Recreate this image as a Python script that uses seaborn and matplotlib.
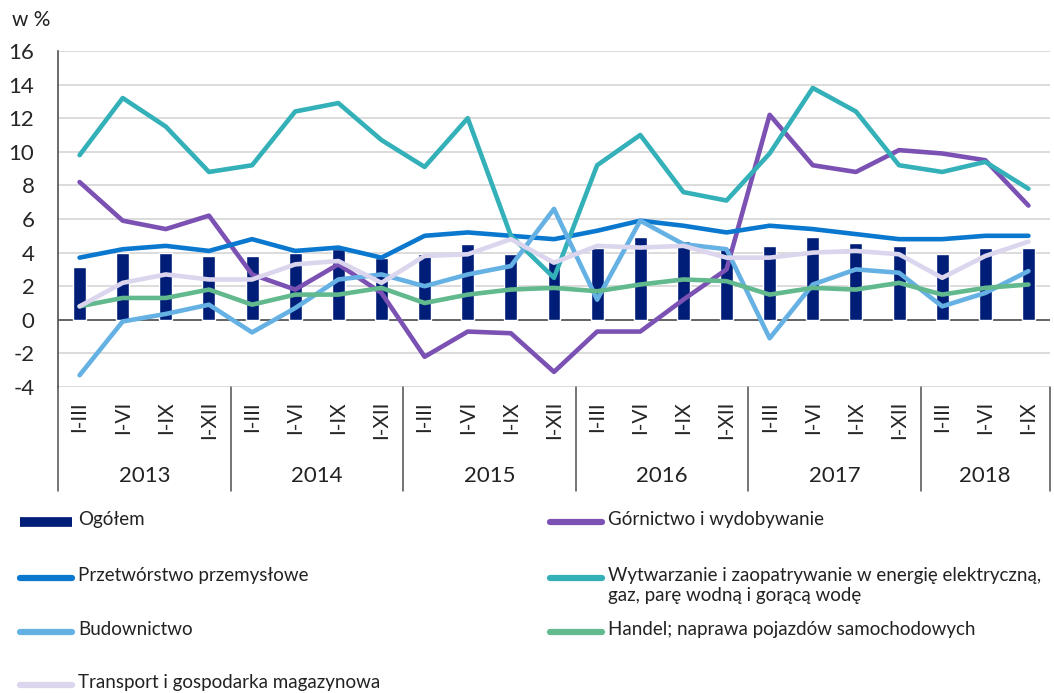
import numpy as np
import pandas as pd
import seaborn as sns
import matplotlib.pyplot as plt
import matplotlib.transforms as mtransforms
from matplotlib.lines import Line2D

# periods
years = ['2013', '2014', '2015', '2016', '2017', '2018']
quarters = ['I-III', 'I-VI', 'I-IX', 'I-XII']
periods_per_year = [4, 4, 4, 4, 4, 3]
period_labels = [q for n in periods_per_year for q in quarters[:n]]

# values in %
ogolem = [3.15, 4.0, 4.0, 3.8, 3.8, 4.0, 4.2, 3.7, 3.9, 4.5, 3.9, 3.6,
          4.3, 4.9, 4.7, 4.3, 4.4, 4.9, 4.6, 4.4, 3.9, 4.3, 4.3]
gornictwo = [8.2, 5.9, 5.4, 6.2, 2.7, 1.8, 3.3, 1.6, -2.2, -0.7, -0.8, -3.1,
             -0.7, -0.7, 1.2, 3.0, 12.2, 9.2, 8.8, 10.1, 9.9, 9.5, 6.8]
przetworstwo = [3.7, 4.2, 4.4, 4.1, 4.8, 4.1, 4.3, 3.7, 5.0, 5.2, 5.0, 4.8,
                5.3, 5.9, 5.6, 5.2, 5.6, 5.4, 5.1, 4.8, 4.8, 5.0, 5.0]
wytwarzanie = [9.8, 13.2, 11.5, 8.8, 9.2, 12.4, 12.9, 10.7, 9.1, 12.0, 5.0, 2.5,
               9.2, 11.0, 7.6, 7.1, 9.9, 13.8, 12.4, 9.2, 8.8, 9.4, 7.8]
budownictwo = [-3.3, -0.1, 0.35, 0.9, -0.75, 0.7, 2.4, 2.7, 2.0, 2.7, 3.2, 6.6,
               1.2, 5.9, 4.5, 4.2, -1.1, 2.1, 3.0, 2.8, 0.8, 1.6, 2.9]
handel = [0.8, 1.3, 1.3, 1.8, 0.9, 1.5, 1.5, 1.9, 1.0, 1.5, 1.8, 1.9,
          1.7, 2.1, 2.4, 2.3, 1.5, 1.9, 1.8, 2.2, 1.5, 1.9, 2.1]
transport = [0.8, 2.2, 2.7, 2.4, 2.4, 3.3, 3.5, 2.2, 3.8, 3.9, 4.8, 3.4,
             4.4, 4.3, 4.4, 3.7, 3.7, 4.0, 4.1, 3.9, 2.5, 3.8, 4.65]

series = [
    ('Górnictwo i wydobywanie', gornictwo, '#7b51b3'),
    ('Przetwórstwo przemysłowe', przetworstwo, '#0a78cf'),
    ('Wytwarzanie i zaopatrywanie w energię elektryczną,\ngaz, parę wodną i gorącą wodę', wytwarzanie, '#33b0b8'),
    ('Budownictwo', budownictwo, '#65b1e3'),
    ('Handel; naprawa pojazdów samochodowych', handel, '#62b98d'),
    ('Transport i gospodarka magazynowa', transport, '#dcd5ee'),
]
bar_color = '#001e77'

df = pd.DataFrame({'pos': np.arange(len(period_labels)), 'Ogółem': ogolem})
for name, vals, _ in series:
    df[name] = vals

sns.set_style('white')
plt.rcParams['font.family'] = ['Lato', 'DejaVu Sans']
plt.rcParams['text.color'] = '#222222'
plt.rcParams['axes.unicode_minus'] = False

fig = plt.figure(figsize=(10.54, 6.93), dpi=100)
W, H = 1054, 693
ax = fig.add_axes([58 / W, 1 - 387 / H, (1050 - 58) / W, (387 - 51) / H])

sns.barplot(data=df, x='pos', y='Ogółem', color=bar_color, width=0.3,
            native_scale=True, saturation=1, ax=ax, zorder=2)
for name, vals, c in series:
    sns.lineplot(data=df, x='pos', y=name, color=c, lw=3.3, ax=ax,
                 legend=False, zorder=3)

ax.set_xlim(-0.5, len(period_labels) - 0.5)
ax.set_ylim(-4, 16)
ax.set_yticks(range(-4, 17, 2))
ax.yaxis.grid(True, color='#d9d9d9', lw=1.3, zorder=0)
ax.set_axisbelow(True)
ax.axhline(0, color='#505050', lw=1.2, zorder=1.5)
ax.set_xlabel('')
ax.set_ylabel('')
for s in ['top', 'right', 'bottom']:
    ax.spines[s].set_visible(False)
ax.spines['left'].set_color('#505050')
ax.spines['left'].set_linewidth(1.2)

ax.set_xticks(range(len(period_labels)))
ax.set_xticklabels(period_labels, rotation=90, fontsize=15)
ax.tick_params(axis='x', length=0, pad=10)
ax.tick_params(axis='y', length=0, pad=17, labelsize=16)

# year separators and labels below the axis
trans = mtransforms.blended_transform_factory(ax.transData, ax.transAxes)
bounds = np.concatenate([[0], np.cumsum(periods_per_year)]) - 0.5
for b in bounds:
    ax.plot([b, b], [0, -0.31], transform=trans, color='#505050', lw=1.1,
            clip_on=False)
for y, a, b in zip(years, bounds[:-1], bounds[1:]):
    ax.text((a + b) / 2, -0.265, y, transform=trans, ha='center',
            va='center', fontsize=16)

fig.text(12 / W, 1 - 20 / H, 'w %', fontsize=15, va='center')

# legend laid out in a grid
entries = [
    ('Ogółem', bar_color, 20, 522, True),
    (series[0][0], series[0][2], 550, 522, False),
    (series[1][0], series[1][2], 20, 578, False),
    (series[2][0], series[2][2], 550, 578, False),
    (series[3][0], series[3][2], 20, 632, False),
    (series[4][0], series[4][2], 550, 632, False),
    (series[5][0], series[5][2], 20, 685, False),
]
for label, c, x0, y0, is_bar in entries:
    yf = 1 - y0 / H
    fig.add_artist(Line2D([x0 / W, (x0 + 52) / W], [yf, yf], color=c,
                          lw=7 if is_bar else 4.5,
                          solid_capstyle='butt' if is_bar else 'round'))
    fig.text((x0 + 58) / W, yf + 11 / H, label, fontsize=13.5, va='top',
             ha='left', linespacing=1.25)

fig.savefig('out.png', dpi=100)
